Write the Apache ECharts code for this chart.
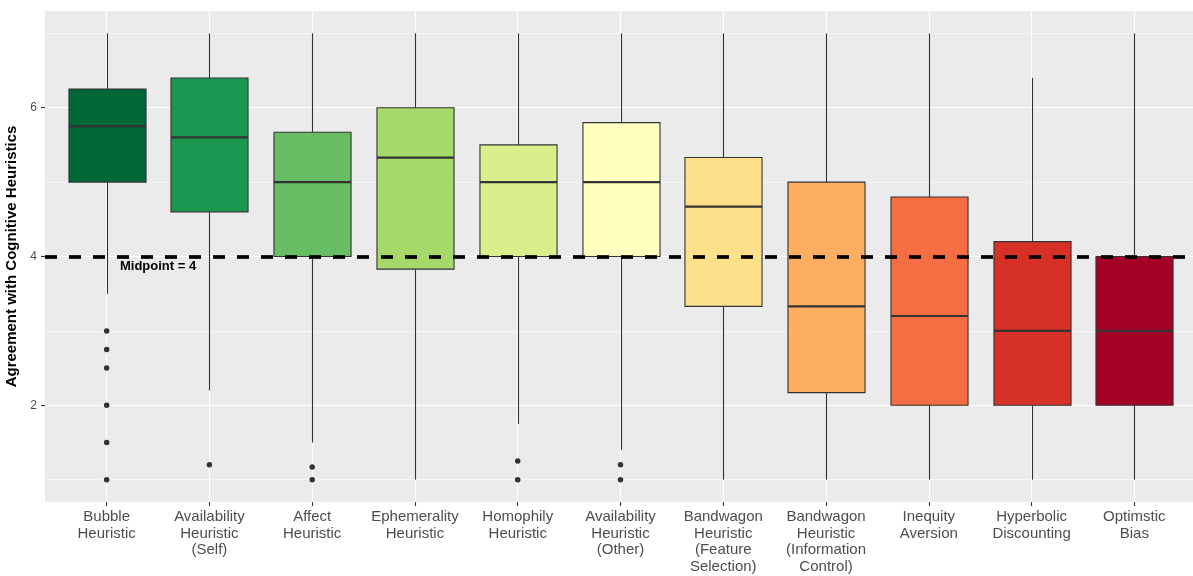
<!DOCTYPE html>
<html><head><meta charset="utf-8">
<script src="https://cdn.jsdelivr.net/npm/echarts@6/dist/echarts.min.js"></script>
<style>html,body{margin:0;padding:0;background:#fff}#c{width:1193px;height:576px}</style>
</head><body><div id="c"></div>
<script>
const categories = ['Bubble\nHeuristic','Availability\nHeuristic\n(Self)','Affect\nHeuristic','Ephemerality\nHeuristic','Homophily\nHeuristic','Availability\nHeuristic\n(Other)','Bandwagon\nHeuristic\n(Feature\nSelection)','Bandwagon\nHeuristic\n(Information\nControl)','Inequity\nAversion','Hyperbolic\nDiscounting','Optimstic\nBias'];
const whiskerLow  = [3.5, 2.2, 1.5, 1, 1.75, 1.4, 1, 1, 1, 1, 1];
const q1          = [5, 4.6, 4, 3.83, 4, 4, 3.33, 2.17, 2, 2, 2];
const median      = [5.75, 5.6, 5, 5.33, 5, 5, 4.67, 3.33, 3.2, 3, 3];
const q3          = [6.25, 6.4, 5.67, 6, 5.5, 5.8, 5.33, 5, 4.8, 4.2, 4];
const whiskerHigh = [7, 7, 7, 7, 7, 7, 7, 7, 7, 6.4, 7];
const outlierCategory = [1, 1, 1, 1, 1, 1, 2, 3, 3, 5, 5, 6, 6];
const outlierValue    = [3, 2.75, 2.5, 2, 1.5, 1, 1.2, 1.17, 1, 1.25, 1, 1.2, 1];
const yTicks = [2, 4, 6];
const midpoint = 4;
const midpointLabel = 'Midpoint = 4';
const palette = ['#006837','#1a9850','#66bd63','#a6d96a','#d9ef8b','#ffffbf','#fee08b','#fdae61','#f46d43','#d73027','#a50026'];

const xPositions = categories.map((c, i) => i + 1);
const boxData = categories.map((c, i) => [i + 1, whiskerLow[i], q1[i], median[i], q3[i], whiskerHigh[i]]);
const outlierData = outlierCategory.map((c, i) => [c, outlierValue[i]]);

const chart = echarts.init(document.getElementById('c'), null, {renderer: 'canvas'});
const FONT = "'Liberation Sans', Arial, sans-serif";
chart.setOption({
  animation: false,
  backgroundColor: '#ffffff',
  textStyle: {fontFamily: FONT},
  grid: {left: 45, right: -3, top: 11, bottom: 74, show: true, backgroundColor: '#ebebeb', borderWidth: 0, containLabel: false, outerBoundsMode: 'none'},
  xAxis: {
    type: 'value', min: 0.4, max: 11.6, minInterval: 1, maxInterval: 1,
    axisLine: {show: false},
    axisTick: {show: true, length: 4, lineStyle: {color: '#333333', width: 1.1}, customValues: xPositions},
    axisLabel: {
      customValues: xPositions,
      formatter: v => (Number.isInteger(v) && categories[v - 1]) ? categories[v - 1] : '',
      color: '#4d4d4d', fontSize: 15, lineHeight: 16.7, margin: 6.5, fontFamily: FONT
    },
    splitLine: {show: true, lineStyle: {color: '#ffffff', width: 1.1}}
  },
  yAxis: {
    type: 'value', min: 0.7, max: 7.3, minInterval: 2, maxInterval: 2,
    name: 'Agreement with Cognitive Heuristics', nameLocation: 'middle', nameGap: 12,
    nameTextStyle: {fontWeight: 'bold', fontSize: 15, color: '#000000', fontFamily: FONT},
    axisLine: {show: false},
    axisTick: {show: true, length: 4, lineStyle: {color: '#333333', width: 1.1}, customValues: yTicks},
    axisLabel: {customValues: yTicks,
      formatter: v => yTicks.includes(v) ? String(v) : '', color: '#4d4d4d', fontSize: 12, margin: 8, fontFamily: FONT},
    splitLine: {show: true, lineStyle: {color: '#ffffff', width: 1.1}},
    minorTick: {show: false, splitNumber: 2},
    minorSplitLine: {show: true, lineStyle: {color: '#ffffff', width: 0.55}}
  },
  series: [
    {
      type: 'custom', z: 2, silent: true,
      data: boxData,
      encode: {x: 0, y: [1, 2, 3, 4, 5]},
      renderItem: function (params, api) {
        const x = api.value(0);
        const lo = api.coord([x, api.value(1)]);
        const b1 = api.coord([x, api.value(2)]);
        const md = api.coord([x, api.value(3)]);
        const b3 = api.coord([x, api.value(4)]);
        const hi = api.coord([x, api.value(5)]);
        const w = api.size([0.75, 0])[0];
        const cx = Math.round(lo[0]) + 0.5;
        const col = palette[params.dataIndex];
        return {type: 'group', children: [
          {type: 'line', shape: {x1: cx, y1: lo[1], x2: cx, y2: b1[1]}, style: {stroke: '#333333', lineWidth: 1.1}},
          {type: 'line', shape: {x1: cx, y1: b3[1], x2: cx, y2: hi[1]}, style: {stroke: '#333333', lineWidth: 1.1}},
          {type: 'rect', shape: {x: cx - w / 2, y: b3[1], width: w, height: b1[1] - b3[1]}, style: {fill: col, stroke: '#333333', lineWidth: 1.1}},
          {type: 'line', shape: {x1: cx - w / 2, y1: md[1], x2: cx + w / 2, y2: md[1]}, style: {stroke: '#333333', lineWidth: 2.2}}
        ]};
      }
    },
    {
      type: 'scatter', z: 5, silent: true,
      data: outlierData, symbolSize: 5.5,
      itemStyle: {color: '#333333', opacity: 1},
      markLine: {
        silent: true, symbol: ['none', 'none'], label: {show: false},
        lineStyle: {color: '#000000', width: 3.7, type: [12, 12], opacity: 1},
        emphasis: {disabled: true},
        data: [{yAxis: midpoint}]
      }
    },
    {
      type: 'scatter', z: 10, silent: true,
      data: [[1.5, 3.87]], symbolSize: 0,
      itemStyle: {opacity: 1},
      label: {show: true, position: 'inside', formatter: midpointLabel, fontWeight: 'bold', fontSize: 13, color: '#000000', opacity: 1, fontFamily: FONT}
    }
  ]
});
</script>
</body></html>
